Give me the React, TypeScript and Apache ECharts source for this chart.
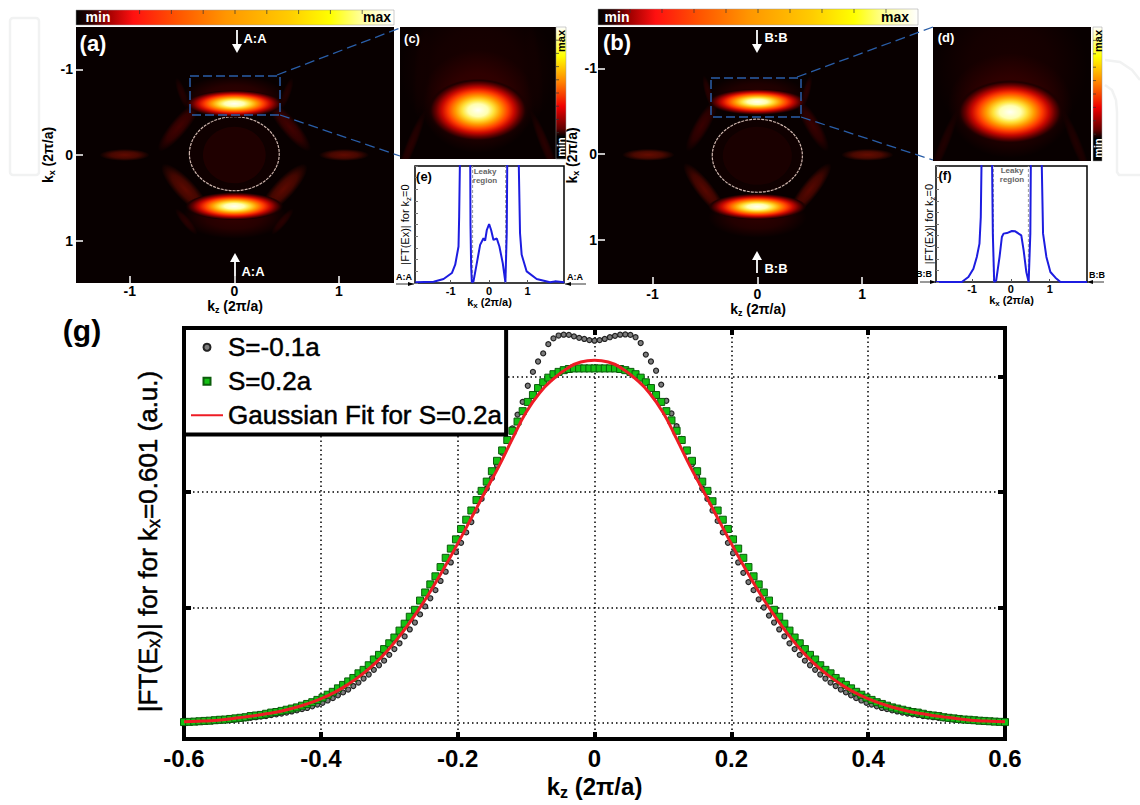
import React, { useEffect, useRef } from "react";
import * as echarts from "echarts";

const FONT = "Liberation Sans";

// Panel (g)
const kzStart = -0.6;
const kzStep = 0.0075;
const sMinus01 = [
  0.006,0.008,0.01,0.012,0.015,0.017,0.02,0.022,0.025,0.028,
  0.03,0.035,0.04,0.045,0.05,0.055,0.06,0.068,0.075,0.082,
  0.09,0.1,0.11,0.12,0.13,0.145,0.16,0.175,0.195,0.215,
  0.24,0.265,0.29,0.32,0.35,0.385,0.42,0.46,0.5,0.54,
  0.59,0.64,0.69,0.75,0.81,0.87,0.94,1.01,1.08,1.15,
  1.23,1.31,1.39,1.48,1.56,1.65,1.74,1.84,1.94,2.03,
  2.12,2.23,2.34,2.45,2.55,2.67,2.78,2.92,3.04,3.13,
  3.2,3.28,3.33,3.355,3.362,3.36,3.348,3.335,3.325,3.315,
  3.31,
  3.315,3.325,3.34,3.352,3.362,3.364,3.36,3.34,3.29,3.19,
  3.13,3.05,2.93,2.79,2.68,2.57,2.46,2.35,2.24,2.13,
  2.03,1.94,1.84,1.75,1.65,1.56,1.47,1.39,1.3,1.22,
  1.15,1.07,1.0,0.93,0.87,0.81,0.75,0.69,0.64,0.59,
  0.54,0.5,0.46,0.42,0.385,0.35,0.32,0.29,0.265,0.24,
  0.215,0.195,0.175,0.16,0.145,0.13,0.12,0.11,0.1,0.09,
  0.082,0.075,0.068,0.06,0.055,0.05,0.045,0.04,0.035,0.03,
  0.028,0.025,0.022,0.02,0.017,0.015,0.012,0.01,0.008,0.006,
];
const sPlus02 = [
  0.008,0.01,0.012,0.015,0.018,0.02,0.024,0.028,0.03,0.035,
  0.04,0.045,0.05,0.06,0.065,0.07,0.08,0.09,0.095,0.105,
  0.115,0.125,0.135,0.15,0.165,0.18,0.2,0.22,0.245,0.27,
  0.3,0.33,0.36,0.39,0.43,0.46,0.5,0.55,0.59,0.64,
  0.69,0.74,0.8,0.86,0.92,0.98,1.06,1.13,1.2,1.27,
  1.35,1.43,1.51,1.59,1.68,1.76,1.84,1.93,2.01,2.09,
  2.18,2.27,2.36,2.45,2.53,2.61,2.7,2.78,2.84,2.9,
  2.95,2.99,3.02,3.04,3.055,3.065,3.07,3.07,3.07,3.07,
  3.07,
  3.07,3.07,3.07,3.07,3.065,3.055,3.04,3.02,2.99,2.95,
  2.9,2.84,2.78,2.7,2.62,2.53,2.45,2.36,2.27,2.18,
  2.09,2.01,1.92,1.84,1.76,1.68,1.59,1.51,1.43,1.35,
  1.27,1.2,1.13,1.06,0.98,0.92,0.86,0.8,0.74,0.69,
  0.64,0.59,0.55,0.5,0.46,0.43,0.39,0.36,0.33,0.3,
  0.27,0.245,0.22,0.2,0.18,0.165,0.15,0.135,0.125,0.115,
  0.105,0.095,0.09,0.08,0.07,0.065,0.06,0.05,0.045,0.04,
  0.035,0.03,0.028,0.024,0.02,0.018,0.015,0.012,0.01,0.008,
];
const fitKz = [
  -0.6,-0.58,-0.56,-0.54,-0.52,-0.5,-0.48,-0.46,-0.44,-0.42,-0.4,-0.38,-0.36,-0.34,-0.32,-0.3,
  -0.28,-0.26,-0.24,-0.22,-0.2,-0.18,-0.16,-0.14,-0.12,-0.1,-0.08,-0.06,-0.04,-0.02,0,
  0.02,0.04,0.06,0.08,0.1,0.12,0.14,0.16,0.18,0.2,0.22,0.24,0.26,0.28,0.3,
  0.32,0.34,0.36,0.38,0.4,0.42,0.44,0.46,0.48,0.5,0.52,0.54,0.56,0.58,0.6,
];
const gaussianFit = [
  0.01,0.015,0.02,0.03,0.045,0.06,0.08,0.1,0.13,0.165,0.21,0.265,0.335,0.42,0.52,0.644,
  0.79,0.955,1.139,1.339,1.553,1.775,2.0,2.22,2.46,2.69,2.86,2.98,3.07,3.125,3.14,
  3.125,3.07,2.98,2.86,2.69,2.46,2.22,2.0,1.775,1.553,1.339,1.139,0.955,0.79,0.644,
  0.52,0.42,0.335,0.265,0.21,0.165,0.13,0.1,0.08,0.06,0.045,0.03,0.02,0.015,0.01,
];
const gYTicks = [0, 1, 2, 3];
const seriesNames = ["S=-0.1a", "S=0.2a", "Gaussian Fit for S=0.2a"];

// Panels (e), (f): [kx, |FT(Ex)|]; values above 1 run off the top of the plot
const cutE = [
  [-1.92,0.006],[-1.446,0.011],[-1.186,0.034],[-0.97,0.085],[-0.883,0.156],[-0.797,0.312],[-0.78,0.57],[-0.753,1.2],
  [-0.494,1.2],[-0.485,0.5],[-0.468,0.142],[-0.45,0.006],[-0.407,0.014],[-0.32,0.17],[-0.234,0.326],[-0.147,0.382],
  [-0.104,0.362],[-0.06,0.453],[0,0.504],[0.052,0.453],[0.113,0.368],[0.2,0.38],[0.268,0.312],[0.355,0.17],[0.424,0.006],
  [0.459,0.425],[0.476,1.2],[0.762,1.2],[0.805,0.425],[0.848,0.241],[0.978,0.099],[1.238,0.034],[1.584,0.006],[1.714,0.014],[1.957,0.006],
];
const cutF = [
  [-1.94,0],[-1.267,0],[-1.095,0.043],[-0.966,0.115],[-0.879,0.216],[-0.81,0.331],[-0.776,0.56],[-0.75,1.2],
  [-0.491,1.2],[-0.466,0.417],[-0.431,0],[-0.379,0.014],[-0.293,0.216],[-0.233,0.388],[-0.19,0.417],[-0.103,0.422],
  [0.026,0.44],[0.112,0.437],[0.198,0.417],[0.267,0.402],[0.328,0.273],[0.397,0.086],[0.457,0],
  [0.5,0.417],[0.517,1.2],[0.784,1.2],[0.828,0.417],[0.914,0.216],[1.017,0.086],[1.147,0.037],[1.276,0],[1.966,0],
];
const leakyE = [-0.43, 0.43];
const leakyF = [-0.45, 0.45];
const wideTicks = [-1, 0, 1];

// Intensity maps as lobes: [kz, kx, half-width kz, half-width kx, tilt deg, peak]
const lobesA = [
  [0,-0.68,0.5,0.25,0,0.2],
  [0,0.72,0.5,0.26,0,0.2],
  [-0.53,-0.33,0.3,0.1,50,0.26],
  [0.53,-0.33,0.3,0.1,-50,0.26],
  [-0.47,0.4,0.32,0.12,-47,0.36],
  [0.47,0.4,0.32,0.12,47,0.36],
  [-0.5,-0.72,0.16,0.05,-70,0.14],
  [0.5,-0.72,0.16,0.05,70,0.14],
  [-0.46,0.78,0.16,0.05,-50,0.16],
  [0.46,0.78,0.16,0.05,50,0.16],
  [-1.05,0,0.24,0.07,0,0.38],
  [1.05,0,0.24,0.07,0,0.38],
  [0,-0.6,0.47,0.16,0,1],
  [0,0.6,0.47,0.165,0,1],
];
const discsA = [[0,-0.015,0.43,0.433,0.06,1],[0,0,0.3,0.33,0.12,0]];
const lobesB = [
  [0,-0.7,0.47,0.22,0,0.16],
  [0,0.74,0.47,0.24,0,0.18],
  [-0.53,-0.33,0.28,0.09,60,0.22],
  [0.53,-0.33,0.28,0.09,-60,0.22],
  [-0.5,0.42,0.32,0.1,-52,0.34],
  [0.5,0.42,0.32,0.1,52,0.34],
  [-0.47,-0.73,0.16,0.045,-75,0.16],
  [0.47,-0.73,0.16,0.045,75,0.16],
  [-1.04,0.01,0.25,0.07,0,0.4],
  [1.05,0.01,0.25,0.07,0,0.4],
  [0,-0.61,0.47,0.155,0,1],
  [0,0.616,0.47,0.155,0,1],
];
const discsB = [[0,0.02,0.43,0.427,0.06,1],[0,0.02,0.33,0.34,0.1,0]];
const lobesC = [
  [0,-0.78,0.42,0.26,0,0.1],
  [0,-0.67,0.31,0.18,0,0.22],
  [-0.36,-0.52,0.2,0.018,68,0.16],
  [0.36,-0.52,0.2,0.018,-68,0.16],
  [-0.3,-0.78,0.26,0.03,85,0.07],
  [0.3,-0.78,0.26,0.03,95,0.07],
  [0,-0.64,0.27,0.11,0,1],
];
const lobesD = [
  [-0.02,-0.75,0.42,0.26,0,0.1],
  [-0.02,-0.62,0.34,0.18,0,0.22],
  [-0.38,-0.49,0.2,0.018,68,0.13],
  [0.34,-0.49,0.2,0.018,-68,0.13],
  [-0.02,-0.598,0.29,0.11,0,1],
];
const noDiscs: number[][] = [];

const hotStops = [
  [0,"#000000"],[0.05,"#300000"],[0.1,"#a00000"],[0.18,"#ff1010"],[0.32,"#ff5500"],
  [0.47,"#ff9500"],[0.67,"#ffcc00"],[0.8,"#ffff00"],[0.9,"#ffffa0"],[1,"#ffffff"],
].map(([offset, color]) => ({ offset, color }));

const insetStops = [
  [0,"#000000"],[0.17,"#000000"],[0.23,"#600000"],[0.4,"#f00000"],[0.58,"#ff8000"],
  [0.78,"#ffff00"],[0.9,"#ffff80"],[1,"#ffffff"],
].map(([offset, color]) => ({ offset, color }));

const peakStops = [
  [0,"#fffff4"],[0.2,"#ffffb0"],[0.32,"#ffe23a"],[0.45,"#ff9c00"],[0.6,"#ff3c00"],
  [0.72,"#c80800"],[0.84,"#680000"],[0.94,"#200000"],[1,"rgba(20,0,0,0)"],
].map(([offset, color]) => ({ offset, color }));

const level = (p: number, a = 1) => {
  const r = Math.min(255, Math.round(p * 255));
  const g = Math.max(0, Math.round((p - 0.25) * 80));
  return `rgba(${r},${g},0,${a})`;
};

const renderLobe = (_: any, api: any) => {
  const [px, py] = api.coord([api.value(0), api.value(1)]);
  const [rx, ry] = api.size([api.value(2), api.value(3)]);
  const peak = api.value(5);
  const fill = new echarts.graphic.RadialGradient(0.5, 0.5, 0.5,
    peak >= 0.9 ? peakStops : [
      { offset: 0, color: level(peak) },
      { offset: 0.55, color: level(peak, 0.7) },
      { offset: 1, color: level(peak, 0) },
    ]);
  return {
    type: "ellipse", x: px, y: py, rotation: (api.value(4) * Math.PI) / 180,
    shape: { cx: 0, cy: 0, rx, ry }, style: { fill },
  };
};
const renderDisc = (_: any, api: any) => {
  const [px, py] = api.coord([api.value(0), api.value(1)]);
  const [rx, ry] = api.size([api.value(2), api.value(3)]);
  const ring = api.value(5) === 1;
  return {
    type: "ellipse",
    shape: { cx: px, cy: py, rx, ry },
    style: {
      fill: level(api.value(4)),
      stroke: ring ? "rgba(255,225,215,0.8)" : "none",
      lineWidth: 1.2,
      lineDash: ring ? [3, 1] : undefined,
    },
  };
};

const subRich = (size: number, sub: number, bold: boolean, heavy = 0) => {
  const base = {
    fontFamily: FONT, fontWeight: bold ? "bold" : "normal", color: "#000",
    textBorderColor: heavy ? "#000" : "transparent", textBorderWidth: heavy, lineHeight: size + 4,
  };
  return {
    a: { ...base, fontSize: size },
    s: { ...base, fontSize: sub, verticalAlign: "bottom" },
  };
};

function buildOption() {
  const grid: any[] = [], xAxis: any[] = [], yAxis: any[] = [], series: any[] = [], graphic: any[] = [];
  const z = 100;
  const noLine = { show: false, onZero: false };
  const txt = (text: string, x: number, y: number, size: number, color: string, extra: any = {}) =>
    graphic.push({
      type: "text", x, y, z, rotation: extra.rotation ?? 0, silent: true,
      style: {
        text, fontSize: size, fontFamily: FONT, fontWeight: extra.weight ?? "bold", fill: color,
        align: "center", verticalAlign: "middle",
      },
    });
  const ln = (x1: number, y1: number, x2: number, y2: number, stroke: string, lineWidth = 1, lineDash?: number[]) =>
    graphic.push({ type: "line", z, silent: true, shape: { x1, y1, x2, y2 }, style: { stroke, lineWidth, lineDash } });
  const tri = (pts: number[][], fill: string) =>
    graphic.push({ type: "polygon", z, silent: true, shape: { points: pts }, style: { fill } });

  const axisText = { fontFamily: FONT, fontWeight: "bold", color: "#000" };

  // heat-map panels
  const mapPanel = (l: number, t: number, w: number, h: number, xr: number[], yr: number[], lobes: number[][], discs: number[][], labelled: boolean, m: number[]) => {
    const g = grid.length;
    grid.push({ left: l, top: t, width: w, height: h, show: true, backgroundColor: "#080000", borderWidth: 0, outerBoundsMode: "none" });
    const subLabel = (n: string) => `{a|k}{s|${n}}{a| (2π/a)}`;
    const tick = { show: labelled, inside: true, length: 7, customValues: wideTicks, lineStyle: { color: "#fff", width: 1.5 } };
    xAxis.push({
      type: "value", gridIndex: g, min: xr[0], max: xr[1], position: "bottom", z: 5,
      axisLine: noLine, splitLine: { show: false }, axisTick: tick,
      axisLabel: { show: labelled, customValues: wideTicks, fontSize: 14, margin: m[0], ...axisText },
      name: labelled ? subLabel("z") : "", nameLocation: "middle", nameGap: m[1],
      nameTextStyle: { rich: subRich(14, 9, true) },
    });
    yAxis.push({
      type: "value", gridIndex: g, inverse: true, min: yr[0], max: yr[1], z: 5,
      axisLine: noLine, splitLine: { show: false }, axisTick: tick,
      axisLabel: { show: labelled, customValues: wideTicks, fontSize: 14, margin: m[2], ...axisText },
      name: labelled ? subLabel("x") : "", nameLocation: "middle", nameGap: m[3], nameRotate: 90,
      nameTextStyle: { rich: subRich(14, 9, true) },
    });
    series.push({ type: "custom", coordinateSystem: "cartesian2d", xAxisIndex: g, yAxisIndex: g, clip: true, z: 2, renderItem: renderDisc, data: discs });
    series.push({ type: "custom", coordinateSystem: "cartesian2d", xAxisIndex: g, yAxisIndex: g, clip: true, z: 3, renderItem: renderLobe, data: lobes });
  };
  mapPanel(76, 27, 318, 256, [-1.515, 1.528], [-1.497, 1.497], lobesA, discsA, true, [1, 10, 3, 9]);
  mapPanel(598, 27, 320, 257, [-1.52, 1.533], [-1.485, 1.52], lobesB, discsB, true, [3, 12, 1, 4]);
  mapPanel(400, 27, 156, 132, [-0.42, 0.42], [-0.93, -0.47], lobesC, noDiscs, false, [0, 0, 0, 0]);
  mapPanel(933, 27, 158, 134, [-0.44, 0.42], [-0.89, -0.43], lobesD, noDiscs, false, [0, 0, 0, 0]);

  // cut panels (e), (f)
  const cutPanel = (l: number, t: number, w: number, h: number, xr: number[], cut: number[][], leaky: number[], m: number[]) => {
    const g = grid.length;
    grid.push({ left: l, top: t, width: w, height: h, show: true, backgroundColor: "#fff", borderColor: "#000", borderWidth: 1.5, outerBoundsMode: "none" });
    xAxis.push({
      type: "value", gridIndex: g, min: xr[0], max: xr[1], z: 5,
      axisLine: noLine, splitLine: { show: false },
      axisTick: { inside: true, length: 3, customValues: wideTicks, lineStyle: { color: "#555" } },
      axisLabel: { customValues: wideTicks, fontSize: 11, margin: m[0], ...axisText },
      name: "{a|k}{s|x}{a| (2π/a)}", nameLocation: "middle", nameGap: m[1],
      nameTextStyle: { rich: subRich(11, 8, true) },
    });
    yAxis.push({
      type: "value", gridIndex: g, min: 0, max: 1, interval: 0.1, z: 5,
      axisLine: noLine, splitLine: { show: false },
      axisTick: { inside: true, length: 3, lineStyle: { color: "#777" } },
      axisLabel: { show: false },
      name: "{a||FT(Ex)| for k}{s|z}{a|=0}", nameLocation: "middle", nameGap: m[2], nameRotate: 90,
      nameTextStyle: { rich: subRich(11, 8, false) },
    });
    leaky.forEach((edge) =>
      series.push({
        type: "line", xAxisIndex: g, yAxisIndex: g, symbol: "none", z: 2,
        lineStyle: { color: "#999", width: 1, type: [3, 2] }, data: [[edge, 0], [edge, 1]],
      }));
    series.push({
      type: "line", xAxisIndex: g, yAxisIndex: g, symbol: "none", clip: true, z: 3,
      lineStyle: { color: "#1c1ce0", width: 2 }, data: cut,
    });
  };
  cutPanel(415, 166, 149, 117, [-1.93, 1.95], cutE, leakyE, [2, 9, 3]);
  cutPanel(936, 166, 151, 116, [-1.93, 1.96], cutF, leakyF, [1, 8, 0]);

  // main panel (g)
  const gi = grid.length;
  grid.push({ left: 184, top: 328, width: 821, height: 411, show: true, backgroundColor: "#fff", borderColor: "#000", borderWidth: 4, outerBoundsMode: "none" });
  const dots = { color: "#000", width: 1.5, type: [1.5, 3] };
  const thickTick = { inside: true, length: 7, lineStyle: { color: "#000", width: 4 } };
  xAxis.push({
    type: "value", gridIndex: gi, min: -0.6, max: 0.6, interval: 0.2, position: "bottom", z: 1,
    axisLine: noLine, axisTick: thickTick, splitLine: { show: true, lineStyle: dots },
    axisLabel: { fontSize: 24, margin: 7, ...axisText, formatter: (v: number) => String(Math.round(v * 10) / 10) },
    name: "{a|k}{s|z}{a| (2π/a)}", nameLocation: "middle", nameGap: 27,
    nameTextStyle: { rich: subRich(24, 16, true) },
  });
  yAxis.push({
    type: "value", gridIndex: gi, min: -0.1385, max: 3.42, z: 1,
    axisLine: noLine, splitLine: { show: true, lineStyle: dots },
    axisTick: { ...thickTick, customValues: gYTicks }, axisLabel: { show: false },
    name: "{a||FT(E}{s|x}{a|)| for for k}{s|x}{a|=0.601 (a.u.)}", nameLocation: "middle", nameGap: 21, nameRotate: 90,
    nameTextStyle: { padding: [0, 16, 0, 0], rich: subRich(26, 18, false, 0.5) },
  });
  xAxis.push({
    type: "value", gridIndex: gi, min: -0.6, max: 0.6, interval: 0.2, position: "top", z: 1,
    axisLine: noLine, axisTick: thickTick, splitLine: { show: false }, axisLabel: { show: false },
  });
  yAxis.push({
    type: "value", gridIndex: gi, min: -0.1385, max: 3.42, position: "right", z: 1,
    axisLine: noLine, splitLine: { show: false },
    axisTick: { ...thickTick, customValues: gYTicks }, axisLabel: { show: false },
  });
  const onGrid = (vals: number[]) => vals.map((v, i) => [kzStart + i * kzStep, v]);
  series.push({
    type: "scatter", name: seriesNames[0], xAxisIndex: gi, yAxisIndex: gi, symbol: "circle", symbolSize: 5, z: 3,
    itemStyle: { color: "#7d7d7d", borderColor: "#222", borderWidth: 1.2, opacity: 1 }, data: onGrid(sMinus01),
  });
  series.push({
    type: "scatter", name: seriesNames[1], xAxisIndex: gi, yAxisIndex: gi, symbol: "rect", symbolSize: 7, z: 4,
    itemStyle: { color: "#14c014", borderColor: "#0b5c0b", borderWidth: 1, opacity: 1 }, data: onGrid(sPlus02),
  });
  series.push({
    type: "line", name: seriesNames[2], xAxisIndex: gi, yAxisIndex: gi, symbol: "none", smooth: true, z: 5,
    lineStyle: { color: "#ee1c25", width: 3 }, itemStyle: { color: "#ee1c25" },
    data: fitKz.map((k, i) => [k, gaussianFit[i]]),
  });

  // colour bars
  const hbar = (x: number, y: number, w: number, h: number) => {
    graphic.push({
      type: "rect", z, silent: true, shape: { x, y, width: w, height: h },
      style: { fill: new echarts.graphic.LinearGradient(0, 0, 1, 0, hotStops), stroke: "#999", lineWidth: 0.5 },
    });
    for (let i = 1; i < 10; i++) ln(x + (i * w) / 10, y, x + (i * w) / 10, y + 4, "#333", 0.7);
  };
  const vbar = (x: number, y: number, w: number, h: number) => {
    graphic.push({
      type: "rect", z, silent: true, shape: { x, y, width: w, height: h },
      style: { fill: new echarts.graphic.LinearGradient(0, 1, 0, 0, insetStops), stroke: "#999", lineWidth: 0.5 },
    });
    for (let i = 1; i < 10; i++) ln(x, y + (i * h) / 10, x + 3, y + (i * h) / 10, "#333", 0.7);
  };
  hbar(76, 10, 318, 15);
  hbar(598, 9, 320, 16);
  vbar(556, 27, 10, 132);
  vbar(1093, 27, 9, 134);
  txt("min", 98, 17, 14, "#fff");
  txt("max", 377, 17, 14, "#000");
  txt("min", 617, 17, 14, "#fff");
  txt("max", 895, 17, 14, "#000");
  txt("max", 561, 41, 11, "#000", { rotation: Math.PI / 2 });
  txt("min", 561, 147, 11, "#fff", { rotation: Math.PI / 2 });
  txt("max", 1098, 41, 11, "#000", { rotation: Math.PI / 2 });
  txt("min", 1098, 148, 11, "#fff", { rotation: Math.PI / 2 });

  // panel letters
  txt("(a)", 93, 43, 22, "#fff");
  txt("(b)", 617, 42, 22, "#fff");
  txt("(c)", 412, 38, 13, "#fff");
  txt("(d)", 946, 37, 13, "#fff");
  txt("(e)", 424, 176, 13, "#000");
  txt("(f)", 945, 175, 13, "#000");
  txt("(g)", 82, 330, 30, "#000");

  // section arrows and labels
  const whiteArrow = (x: number, y1: number, y2: number) => {
    const dir = y2 > y1 ? 1 : -1;
    ln(x, y1, x, y2 - dir * 8, "#fff", 1.8);
    tri([[x - 5, y2 - dir * 9], [x + 5, y2 - dir * 9], [x, y2]], "#fff");
  };
  whiteArrow(237, 30, 53); txt("A:A", 255, 38, 13, "#fff");
  whiteArrow(235, 276, 253); txt("A:A", 253, 271, 13, "#fff");
  whiteArrow(757, 30, 53); txt("B:B", 776, 37, 13, "#fff");
  whiteArrow(757, 273, 251); txt("B:B", 776, 268, 13, "#fff");
  const sideArrow = (x1: number, x2: number, y: number) => {
    const dir = x2 > x1 ? 1 : -1;
    ln(x1, y, x2, y, "#000", 0.8);
    tri([[x2, y], [x2 - dir * 6, y - 2], [x2 - dir * 6, y + 2]], "#000");
  };
  txt("A:A", 404, 277, 9, "#000"); sideArrow(396, 414, 284);
  txt("A:A", 575, 277, 9, "#000"); sideArrow(586, 565, 284);
  txt("B:B", 924, 274, 9, "#000"); sideArrow(920, 936, 282);
  txt("B:B", 1097, 275, 9, "#000"); sideArrow(1104, 1087, 282);

  // leaky region captions
  txt("Leaky", 485, 171, 8, "#666"); txt("region", 485, 180, 8, "#666");
  txt("Leaky", 1012, 170, 8, "#666"); txt("region", 1012, 179, 8, "#666");

  // zoom boxes
  const blue = "#2a5ea8";
  const box = (x: number, y: number, w: number, h: number) =>
    graphic.push({ type: "rect", z, silent: true, shape: { x, y, width: w, height: h }, style: { fill: "none", stroke: blue, lineWidth: 1.5, lineDash: [9, 4] } });
  box(190, 76, 90, 39);
  ln(277, 75, 400, 28, blue, 1.3, [10, 5]);
  ln(280, 115, 400, 156, blue, 1.3, [10, 5]);
  box(711, 78, 90, 39);
  ln(797, 77, 933, 27, blue, 1.3, [10, 5]);
  ln(801, 117, 933, 160, blue, 1.3, [10, 5]);

  // faint background mark
  const wm = "#f1f2f2";
  graphic.push({ type: "rect", z: 0, silent: true, shape: { x: 10, y: 18, width: 29, height: 157, r: 3 }, style: { fill: "none", stroke: wm, lineWidth: 2.5 } });
  graphic.push({ type: "polyline", z: 0, silent: true, shape: { points: [[1105, 60], [1120, 62], [1132, 70], [1140, 80]] }, style: { fill: "none", stroke: wm, lineWidth: 2.5 } });
  graphic.push({ type: "polyline", z: 0, silent: true, shape: { points: [[1105, 85], [1112, 90], [1116, 100], [1117, 112], [1117, 172], [1119, 175], [1140, 175]] }, style: { fill: "none", stroke: wm, lineWidth: 2.5 } });

  return {
    animation: false,
    backgroundColor: "#fff",
    textStyle: { fontFamily: FONT },
    grid, xAxis, yAxis, series, graphic,
    legend: {
      data: [
        { name: seriesNames[0], icon: "circle" },
        { name: seriesNames[1], icon: "path://M0 0H10V10H0Z" },
        { name: seriesNames[2], icon: "inherit", itemStyle: { color: "transparent", borderWidth: 0, opacity: 0 } },
      ],
      orient: "vertical", left: 184, top: 328, itemWidth: 32, itemHeight: 7, itemGap: 7.5,
      padding: [6, 4, 6, 6], backgroundColor: "#fff", borderColor: "#000", borderWidth: 4, borderRadius: 0, z: 20, selectedMode: false,
      textStyle: { fontSize: 26, fontFamily: FONT, color: "#000", textBorderColor: "#000", textBorderWidth: 0.5 },
    },
  };
}

export default function App() {
  const ref = useRef<HTMLDivElement>(null);
  useEffect(() => {
    document.body.style.margin = "0";
    const chart = echarts.init(ref.current!, undefined, { renderer: "svg" });
    chart.setOption(buildOption() as any);
    return () => chart.dispose();
  }, []);
  return <div ref={ref} style={{ width: 1140, height: 805 }} />;
}
